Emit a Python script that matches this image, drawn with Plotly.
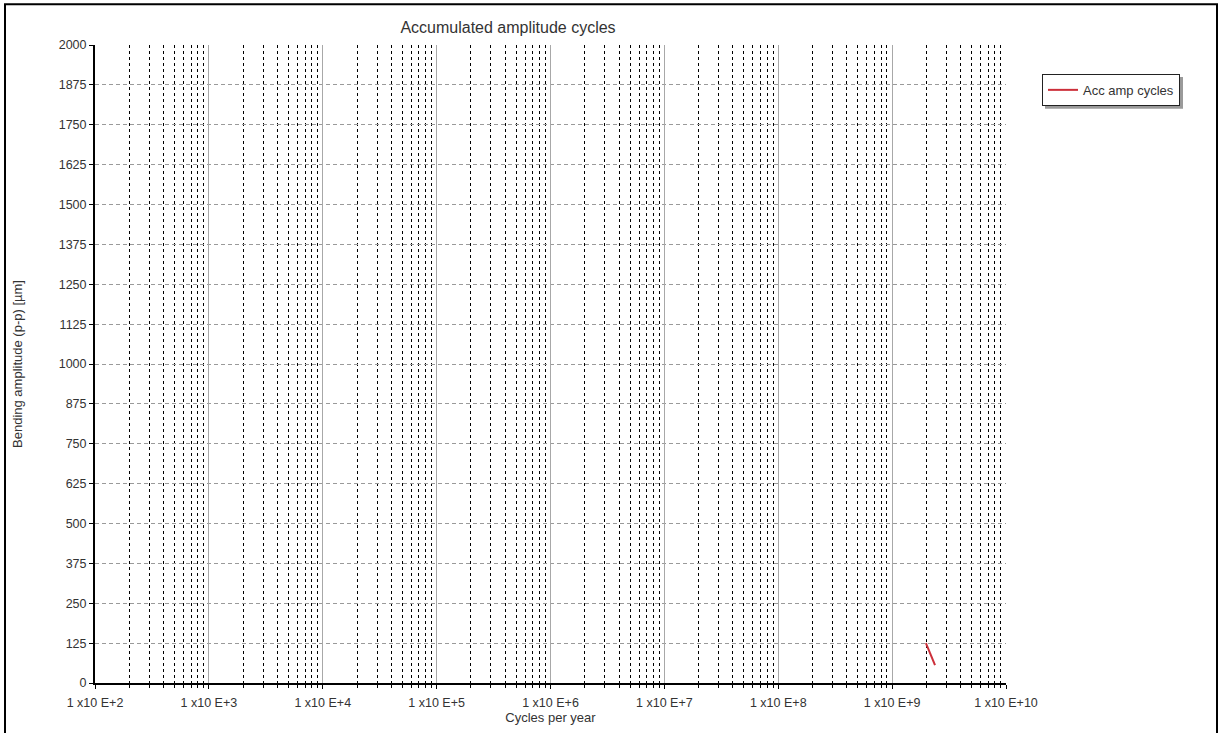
import plotly.graph_objects as go

# Accumulated amplitude cycles series
cycles_per_year = [1.98e9, 2.38e9]
bending_amplitude = [125, 56]

# Axis definitions
x_exponents = [2, 3, 4, 5, 6, 7, 8, 9, 10]
x_tick_text = ["1 x10 E+%d" % e for e in x_exponents]
y_ticks = list(range(0, 2001, 125))

font_family = "Liberation Sans, Arial, sans-serif"
text_color = "#333333"

fig = go.Figure()
fig.add_trace(go.Scatter(
    x=cycles_per_year,
    y=bending_amplitude,
    mode="lines",
    name="Acc amp cycles",
    line=dict(color="#cc2f3a", width=2),
))

fig.update_layout(
    width=1222,
    height=733,
    paper_bgcolor="white",
    plot_bgcolor="white",
    margin=dict(l=95, r=216, t=45, b=48),
    font=dict(family=font_family, size=12.5, color=text_color),
    title=dict(
        text="Accumulated amplitude cycles",
        x=508 / 1222, xanchor="center",
        y=1 - 27 / 733, yanchor="middle",
        font=dict(size=16, color=text_color),
    ),
    showlegend=True,
    legend=dict(
        x=(1042 - 95) / 911, y=(685 - 74) / 640, xanchor="left", yanchor="top",
        bgcolor="white", bordercolor="#222222", borderwidth=1,
        font=dict(size=13, color=text_color),
        itemwidth=30,
        tracegroupgap=0,
    ),
)

fig.update_xaxes(
    type="log",
    range=[2, 10],
    tickvals=[10 ** e for e in x_exponents],
    ticktext=x_tick_text,
    showgrid=True,
    gridcolor="#a8a8a8",
    gridwidth=1,
    showline=True,
    linecolor="black",
    linewidth=2,
    ticks="outside",
    ticklen=4,
    tickcolor="black",
    ticklabelstandoff=3,
    minor=dict(
        dtick="D1",
        showgrid=True,
        gridcolor="black",
        gridwidth=1,
        griddash="3px,3px",
        ticks="outside",
        ticklen=3,
        tickcolor="black",
    ),
    zeroline=False,
    title=dict(text="Cycles per year", font=dict(size=13, color=text_color), standoff=2),
    tickfont=dict(size=12.5, color=text_color),
)

# Horizontal grid only at the interior ticks (none along the top edge)
fig.update_yaxes(
    range=[0, 2000],
    tickvals=y_ticks,
    showgrid=False,
    showline=True,
    linecolor="black",
    linewidth=2,
    ticks="outside",
    ticklen=4,
    tickcolor="black",
    minor=dict(
        tickvals=y_ticks[1:-1],
        showgrid=True,
        gridcolor="#9a9a9a",
        gridwidth=1,
        griddash="4px,3px",
        ticks="",
    ),
    zeroline=False,
    title=dict(text="Bending amplitude (p-p) [µm]", font=dict(size=13, color=text_color), standoff=33),
    tickfont=dict(size=12.5, color=text_color),
)

# Outer frame around the chart panel
fig.add_shape(
    type="rect", xref="paper", yref="paper",
    x0=(5 - 95) / 911, x1=(1217 - 95) / 911,
    y0=-0.2, y1=(685 - 4) / 640,
    line=dict(color="black", width=2),
    fillcolor="rgba(0,0,0,0)",
    layer="above",
)

# Soft drop shadow behind the legend box
fig.add_shape(
    type="rect", xref="paper", yref="paper",
    x0=(1045 - 95) / 911, x1=(1183 - 95) / 911,
    y0=(685 - 109) / 640, y1=(685 - 77) / 640,
    line=dict(width=0),
    fillcolor="#9a9a9a",
    layer="below",
)

fig.write_html("out.html")
